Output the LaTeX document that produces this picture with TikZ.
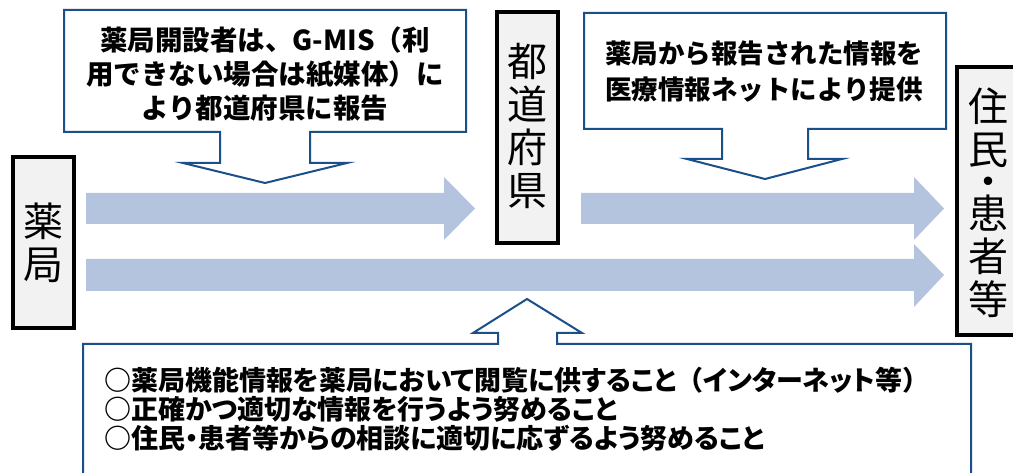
\documentclass[tikz,border=0pt]{standalone}
\usepackage{fontspec}
\newfontfamily\jp{Noto Sans CJK JP}
\newfontfamily\jpp{Noto Sans CJK JP}[RawFeature=+palt]
\definecolor{arrowblue}{HTML}{B4C4DE}
\definecolor{calloutblue}{HTML}{1B4F8A}
\definecolor{boxgray}{HTML}{F2F2F2}
\tikzset{
  actorbox/.style={draw=black, line width=3.5pt, fill=boxgray},
  bigarrow/.style={fill=arrowblue, draw=none},
  callout/.style={draw=calloutblue, line width=2pt, fill=white, line join=miter},
  vlabel/.style={font=\jp\fontsize{40}{43}\selectfont, align=center, inner sep=0pt},
  ctext/.style={font=\jp\bfseries\fontsize{27.5}{34}\selectfont, align=center, inner sep=0pt},
}
\begin{document}
\begin{tikzpicture}[x=1pt, y=-1pt]
\clip (0,0) rectangle (1013,473);
\fill[white] (0,0) rectangle (1013,473);

% actor boxes
\draw[actorbox] (13,157) rectangle (74,328);
\node[vlabel] (pharm) at (43.5,243) {薬\\局};
\draw[actorbox] (497,12) rectangle (558,243);
\node[vlabel] (pref) at (527,126) {都\\道\\府\\県};
\draw[actorbox] (957,67) rectangle (1030,335);
\node[vlabel] (resid) at (988,203) {住\\民\\[-11pt]・\\[-11pt]患\\者\\等};

% block arrows
\coordinate (a1s) at (86,208.5);
\coordinate (a1t) at (475,208.5);
\coordinate (a2s) at (581,208.5);
\coordinate (a2t) at (944,208.5);
\coordinate (a3s) at (86,275);
\coordinate (a3t) at (944,275);
\fill[bigarrow] ([yshift=-15.5pt]a1s) -- ([xshift=-31pt,yshift=-15.5pt]a1t) -- ([xshift=-31pt,yshift=-31.5pt]a1t) -- (a1t) -- ([xshift=-31pt,yshift=31.5pt]a1t) -- ([xshift=-31pt,yshift=15.5pt]a1t) -- ([yshift=15.5pt]a1s) -- cycle;
\fill[bigarrow] ([yshift=-15.5pt]a2s) -- ([xshift=-30pt,yshift=-15.5pt]a2t) -- ([xshift=-30pt,yshift=-31.5pt]a2t) -- (a2t) -- ([xshift=-30pt,yshift=31.5pt]a2t) -- ([xshift=-30pt,yshift=15.5pt]a2t) -- ([yshift=15.5pt]a2s) -- cycle;
\fill[bigarrow] ([yshift=-16pt]a3s) -- ([xshift=-30pt,yshift=-16pt]a3t) -- ([xshift=-30pt,yshift=-32pt]a3t) -- (a3t) -- ([xshift=-30pt,yshift=31pt]a3t) -- ([xshift=-30pt,yshift=16pt]a3t) -- ([yshift=16pt]a3s) -- cycle;

% callout 1
\draw[callout] (64,10) -- (466,10) -- (466,132) -- (310,132) -- (310,163) -- (347,163) -- (265,183) -- (183,163) -- (220,163) -- (220,132) -- (64,132) -- cycle;
\node[ctext] (c1) at (265,74) {薬局開設者は、G-MIS（利\\用できない場合は紙媒体）に\\より都道府県に報告};

% callout 2
\draw[callout] (584,13) -- (946,13) -- (946,129) -- (808,129) -- (808,159) -- (842,159) -- (765,179) -- (687,159) -- (722,159) -- (722,129) -- (584,129) -- cycle;
\node[ctext, font=\jp\bfseries\fontsize{26.5}{36}\selectfont] (c2) at (764,72) {薬局から報告された情報を\\医療情報ネットにより提供};

% callout 3
\draw[callout] (83,490) -- (83,344) -- (498,344) -- (498,333) -- (473,333) -- (527,299) -- (582,333) -- (557,333) -- (557,344) -- (971,344) -- (971,490) -- cycle;
\node[ctext, align=left, anchor=west, font=\jpp\bfseries\fontsize{27}{29}\selectfont] (c3) at (104,409) {{\jp ○}薬局機能情報を薬局において閲覧に供すること{\jp（}インターネット等{\jp）}\\{\jp ○}正確かつ適切な情報を行うよう努めること\\{\jp ○}住民・患者等からの相談に適切に応ずるよう努めること};
\end{tikzpicture}
\end{document}
